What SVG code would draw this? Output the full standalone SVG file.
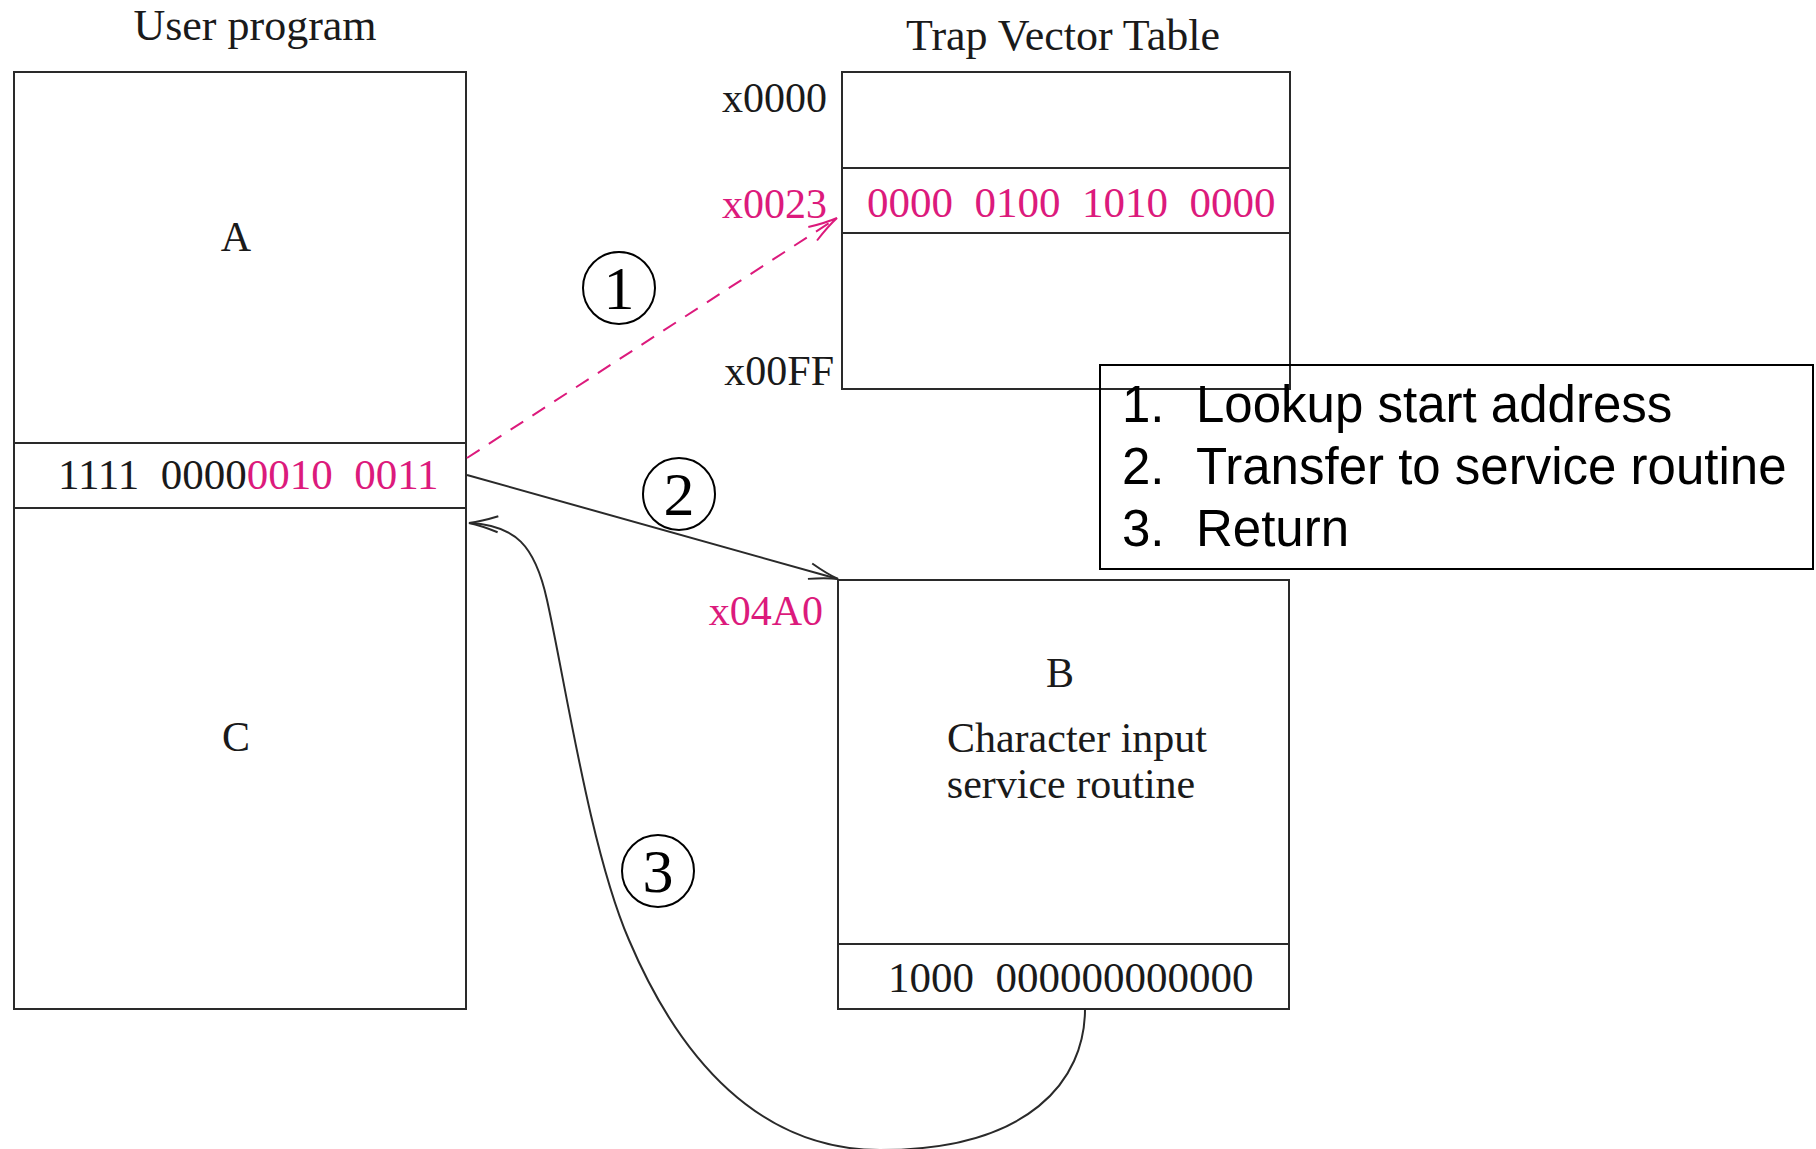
<svg xmlns="http://www.w3.org/2000/svg" width="1816" height="1149" viewBox="0 0 1816 1149">
<style>
.box{fill:none;stroke:#2a2a2a;stroke-width:2}
.ser{font-family:"Liberation Serif","Times New Roman",serif;font-size:42px;fill:#1a1a1a}
.dig{font-size:43px}
.pk{fill:#DC1A7C}
.leg{font-family:"Liberation Sans",Arial,sans-serif;font-size:51px;fill:#000}
.circ{fill:none;stroke:#000;stroke-width:2}
.num{font-family:"Liberation Serif","Times New Roman",serif;font-size:62px;fill:#000;text-anchor:middle}
.con{fill:none;stroke:#2a2a2a;stroke-width:2}
</style>
<defs>
<marker id="ah" markerUnits="userSpaceOnUse" viewBox="-32 -12 36 24" refX="0" refY="0" markerWidth="36" markerHeight="24" orient="auto" overflow="visible">
<path d="M -29 -8 Q -12 -2 0 0 Q -12 2 -29 8" fill="none" stroke="#2a2a2a" stroke-width="2"/>
</marker>
<marker id="ahp" markerUnits="userSpaceOnUse" viewBox="-32 -12 36 24" refX="0" refY="0" markerWidth="36" markerHeight="24" orient="auto" overflow="visible">
<path d="M -29 -8 Q -12 -2 0 0 Q -12 2 -29 8" fill="none" stroke="#DC1A7C" stroke-width="2"/>
</marker>
</defs>

<g id="user-program">
<text class="ser" x="255" y="40" text-anchor="middle" style="font-size:44px">User program</text>
<rect class="box" x="14" y="72" width="452" height="937"/>
<line class="box" x1="14" y1="443" x2="466" y2="443"/>
<line class="box" x1="14" y1="508" x2="466" y2="508"/>
<text class="ser" x="236" y="251" text-anchor="middle">A</text>
<text class="ser dig" x="58" y="489" xml:space="preserve">1111  0000<tspan class="pk">0010  0011</tspan></text>
<text class="ser" x="236" y="751" text-anchor="middle">C</text>
</g>

<g id="trap-vector-table">
<text class="ser" x="1063" y="50" text-anchor="middle" style="font-size:44px">Trap Vector Table</text>
<rect class="box" x="842" y="72" width="448" height="317"/>
<line class="box" x1="842" y1="168" x2="1290" y2="168"/>
<line class="box" x1="842" y1="233" x2="1290" y2="233"/>
<text class="ser" x="827" y="112" text-anchor="end">x0000</text>
<text class="ser pk" x="827" y="218" text-anchor="end">x0023</text>
<text class="ser" x="834" y="385" text-anchor="end">x00FF</text>
<text class="ser pk dig" x="867" y="217" xml:space="preserve">0000  0100  1010  0000</text>
</g>

<g id="service-routine">
<rect class="box" x="838" y="580" width="451" height="429"/>
<line class="box" x1="838" y1="944" x2="1289" y2="944"/>
<text class="ser pk" x="823" y="625" text-anchor="end">x04A0</text>
<text class="ser" x="1060" y="687" text-anchor="middle">B</text>
<text class="ser" x="1077" y="752" text-anchor="middle">Character input</text>
<text class="ser" x="1071" y="798" text-anchor="middle">service routine</text>
<text class="ser dig" x="888" y="992" xml:space="preserve">1000  000000000000</text>
</g>

<g id="legend">
<rect x="1100" y="365" width="713" height="204" fill="none" stroke="#000" stroke-width="2"/>
<text class="leg" x="1122" y="422">1.</text>
<text class="leg" x="1196" y="422">Lookup start address</text>
<text class="leg" x="1122" y="484">2.</text>
<text class="leg" x="1196" y="484">Transfer to service routine</text>
<text class="leg" x="1122" y="546">3.</text>
<text class="leg" x="1196" y="546">Return</text>
</g>

<g id="connectors">
<line x1="467" y1="458" x2="837" y2="218" fill="none" stroke="#DC1A7C" stroke-width="2" stroke-dasharray="15 11" marker-end="url(#ahp)"/>
<line class="con" x1="467" y1="475" x2="838" y2="579" marker-end="url(#ah)"/>
<path class="con" d="M 1085 1009 C 1085 1080, 1030 1150, 880 1150 C 760 1150, 680 1060, 629 940 C 590 850, 565 680, 547 600 C 535 545, 515 525, 469 523" marker-end="url(#ah)"/>
</g>

<g id="step-1">
<circle class="circ" cx="619" cy="288" r="36"/>
<text class="num" x="619" y="309">1</text>
</g>
<g id="step-2">
<circle class="circ" cx="679" cy="494" r="36"/>
<text class="num" x="679" y="515">2</text>
</g>
<g id="step-3">
<circle class="circ" cx="658" cy="871" r="36"/>
<text class="num" x="658" y="892">3</text>
</g>
</svg>
